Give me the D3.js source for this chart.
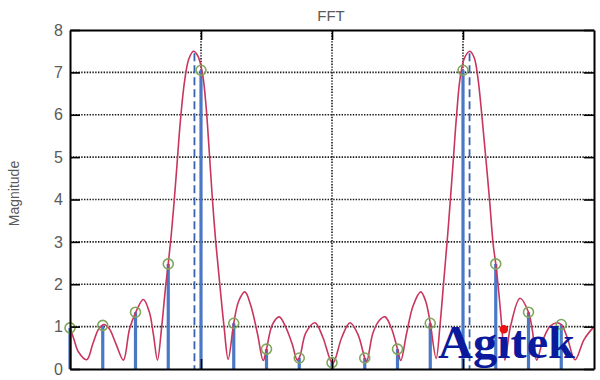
<!DOCTYPE html>
<html><head><meta charset="utf-8">
<script src="https://cdn.jsdelivr.net/npm/d3@7"></script>
<style>body{margin:0;background:#fff}</style></head>
<body>
<svg id="c" width="600" height="380"></svg>
<script>
// ---- data ----
const binIndex = [0,1,2,3,4,5,6,7,8,9,10,11,12,13,14,15];
const binMagnitude = [0.97,1.03,1.34,2.48,7.05,1.08,0.47,0.26,0.15,0.26,0.47,1.08,7.05,2.48,1.34,1.05];
const trueFreqBin = [3.8, 12.2];
const trueFreqMag = [7.45, 7.45];
const curveBin = [0,0.12,0.26,0.51,0.70,0.88,1.04,1.20,1.40,1.63,1.82,2.02,2.24,2.42,2.55,2.67,2.80,2.92,3.00,3.09,3.18,3.27,3.37,3.50,3.63,3.77,3.91,4.05,4.16,4.25,4.34,4.45,4.58,4.71,4.83,5.00,5.15,5.34,5.52,5.72,5.90,6.00,6.18,6.39,6.58,6.78,6.94,7.02,7.20,7.48,7.72,8.02,8.30,8.55,8.80,9.00,9.06,9.25,9.45,9.62,9.82,10.00,10.10,10.28,10.48,10.71,10.86,11.00,11.18,11.30,11.41,11.52,11.62,11.71,11.80,11.91,12.05,12.21,12.34,12.45,12.58,12.70,12.82,12.92,13.00,13.10,13.19,13.28,13.45,13.74,14.00,14.12,14.25,14.45,14.65,14.86,15.00,15.18,15.42,15.70,16.00];
const curveMag = [0.97,0.70,0.40,0.22,0.60,0.95,1.05,0.95,0.60,0.21,0.95,1.36,1.64,1.35,0.80,0.21,1.00,1.95,2.48,3.15,3.95,4.85,5.85,6.80,7.32,7.50,7.38,6.95,6.15,5.15,4.10,3.00,1.95,0.95,0.23,1.08,1.60,1.82,1.50,0.85,0.20,0.47,1.05,1.23,1.00,0.60,0.21,0.30,0.85,1.09,0.75,0.13,0.75,1.09,0.80,0.26,0.18,0.85,1.15,1.23,0.95,0.47,0.20,0.85,1.50,1.82,1.60,1.08,0.25,1.05,2.05,3.05,4.05,5.00,5.95,6.85,7.35,7.50,7.35,6.90,5.95,4.95,3.90,2.95,2.48,1.75,0.95,0.21,1.00,1.67,1.34,0.90,0.21,0.70,1.00,1.09,1.05,0.75,0.22,0.70,1.00];
const yTicks = [0,1,2,3,4,5,6,7,8];
const gridY = [1,2,3,4,5,6,7];
const gridX = [4,8,12];
const xDomain = [0,16];
const yDomain = [0,8];

// ---- drawing ----
const svg = d3.select("#c");
const L=70,R=594,T=30,B=369;
const x = d3.scaleLinear().domain(xDomain).range([L,R]);
const y = d3.scaleLinear().domain(yDomain).range([B,T]);
const font = "'Liberation Sans', Arial, Helvetica, sans-serif";

// grid
svg.append("g").selectAll("line").data(gridY).join("line")
  .attr("x1",L).attr("x2",R).attr("y1",d=>y(d)).attr("y2",d=>y(d))
  .attr("stroke","#1a1a1a").attr("stroke-width",1.6).attr("stroke-dasharray","1.4,1.4");
svg.append("g").selectAll("line").data(gridX).join("line")
  .attr("x1",d=>x(d)).attr("x2",d=>x(d)).attr("y1",T).attr("y2",B)
  .attr("stroke","#1a1a1a").attr("stroke-width",1.6).attr("stroke-dasharray","1.4,1.4");

// dashed true-frequency lines
svg.append("g").selectAll("line").data(trueFreqBin).join("line")
  .attr("x1",d=>x(d)).attr("x2",d=>x(d)).attr("y1",(d,i)=>y(trueFreqMag[i])).attr("y2",y(0))
  .attr("stroke","#3a62ae").attr("stroke-width",1.8).attr("stroke-dasharray","8,4");

// stems
svg.append("g").selectAll("line").data(binIndex).join("line")
  .attr("x1",d=>x(d)).attr("x2",d=>x(d)).attr("y1",y(0)).attr("y2",(d,i)=>y(binMagnitude[i]))
  .attr("stroke","#4a78c4").attr("stroke-width",3.2);

// continuous spectrum
const pts = curveBin.map((b,i)=>[b,curveMag[i]]);
svg.append("path").datum(pts)
  .attr("d", d3.line().x(d=>x(d[0])).y(d=>y(d[1])).curve(d3.curveCatmullRom.alpha(0.5)))
  .attr("fill","none").attr("stroke","#c8365e").attr("stroke-width",1.6);

// circles
svg.append("g").selectAll("circle").data(binIndex).join("circle")
  .attr("cx",d=>x(d)).attr("cy",(d,i)=>y(binMagnitude[i])).attr("r",5)
  .attr("fill","none").attr("stroke","#7fa75b").attr("stroke-width",1.6);

// axes (box)
function styleAxis(g){
  g.select(".domain").attr("stroke","#000").attr("stroke-width",2);
  g.selectAll(".tick line").attr("stroke","#000").attr("stroke-width",1.6);
  g.selectAll("text").attr("font-family",font).attr("font-size",16).attr("fill","#5a5a5a");
}
svg.append("g").attr("transform",`translate(${L},0)`)
  .call(d3.axisLeft(y).tickValues(yTicks).tickSize(-10).tickSizeOuter(0).tickPadding(7))
  .call(styleAxis);
svg.append("g").attr("transform",`translate(${R},0)`)
  .call(d3.axisRight(y).tickValues(yTicks).tickSize(-10).tickSizeOuter(0).tickFormat(""))
  .call(styleAxis);
svg.append("g").attr("transform",`translate(0,${T})`)
  .call(d3.axisTop(x).tickValues(gridX).tickSize(-10).tickSizeOuter(0).tickFormat(""))
  .call(styleAxis);
svg.append("g").attr("transform",`translate(0,${B})`)
  .call(d3.axisBottom(x).tickValues(gridX).tickSize(-10).tickSizeOuter(0).tickFormat(""))
  .call(styleAxis);

// titles
svg.append("text").attr("x",331).attr("y",20.7).attr("text-anchor","middle")
  .attr("font-family",font).attr("font-size",15).attr("fill","#5a5a5a").text("FFT");
svg.append("text").attr("transform","translate(19.3,193.5) rotate(-90)").attr("text-anchor","middle")
  .attr("font-family",font).attr("font-size",14).attr("fill","#5a5a5a").text("Magnitude");

// watermark
const wm = svg.append("text").attr("x",438).attr("y",358)
  .attr("font-family","'Liberation Serif','Times New Roman',serif").attr("font-weight","bold")
  .attr("font-size",47).attr("fill","#0b1a9c")
  .attr("textLength",137).attr("lengthAdjust","spacingAndGlyphs").text("Agitek");
let ix = 504;
try { const e = wm.node().getExtentOfChar(2); ix = e.x + e.width/2; } catch(err){}
svg.append("circle").attr("cx",ix).attr("cy",329.3).attr("r",4.2).attr("fill","#ee1111");
</script>
</body></html>
